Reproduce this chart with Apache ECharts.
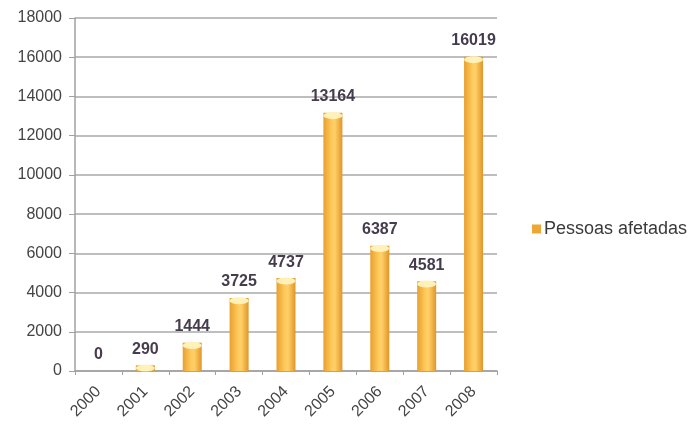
<!DOCTYPE html>
<html><head><meta charset="utf-8">
<script src="https://cdn.jsdelivr.net/npm/echarts@6/dist/echarts.min.js"></script>
<style>html,body{margin:0;padding:0;background:#fff}#c{width:696px;height:430px}</style>
</head><body><div id="c"></div>
<script>
const years = ['2000','2001','2002','2003','2004','2005','2006','2007','2008'];
const pessoasAfetadas = [0, 290, 1444, 3725, 4737, 13164, 6387, 4581, 16019];
const seriesName = 'Pessoas afetadas';

const chart = echarts.init(document.getElementById('c'));
const barGrad = new echarts.graphic.LinearGradient(0, 0, 1, 0, [
  {offset: 0, color: '#e8a02e'},
  {offset: 0.45, color: '#ffcb5e'},
  {offset: 0.6, color: '#ffd068'},
  {offset: 1, color: '#e09528'}
]);
const font = 'Liberation Sans, Arial';
chart.setOption({
  animation: false,
  grid: {left: 75, right: 199, top: 18, bottom: 59},
  legend: {
    data: [{name: seriesName, icon: 'rect', itemStyle: {color: '#eea634'}}],
    orient: 'vertical', left: 527, top: 215,
    itemWidth: 9, itemHeight: 9, itemGap: 4,
    textStyle: {fontFamily: font, fontSize: 18, color: '#3a3a3a', padding: [0, 0, 0, -2]}
  },
  xAxis: {
    type: 'category', data: years,
    axisLine: {lineStyle: {color: '#a0a0a0', width: 1.5}},
    axisTick: {show: true, length: 4, lineStyle: {color: '#a0a0a0'}},
    axisLabel: {rotate: 45, color: '#444', fontFamily: font, fontSize: 16, margin: 18}
  },
  yAxis: {
    type: 'value', min: 0, max: 18000, interval: 2000,
    axisLine: {show: true, lineStyle: {color: '#a0a0a0', width: 1.5}},
    axisTick: {show: true, length: 6, inside: false, lineStyle: {color: '#a0a0a0'}},
    splitLine: {lineStyle: {color: '#a8a8a8', width: 1.5}},
    axisLabel: {color: '#444', fontFamily: font, fontSize: 16, margin: 13,
      formatter: v => String(v)}
  },
  series: [
    {
      name: seriesName, type: 'bar', data: pessoasAfetadas, barWidth: 19,
      itemStyle: {color: barGrad},
      label: {show: true, position: 'top', distance: 8, color: '#463c4e',
        fontFamily: font, fontSize: 16, fontWeight: 'bold'}
    },
    {
      name: 'top', type: 'pictorialBar',
      data: pessoasAfetadas.map(v => v > 0 ? v : null),
      symbol: 'circle', symbolSize: [19, 7], symbolPosition: 'end', symbolOffset: [0, '-10%'],
      itemStyle: {color: '#fff1b8'}, z: 3, silent: true, legendHoverLink: false
    }
  ]
});
</script></body></html>
